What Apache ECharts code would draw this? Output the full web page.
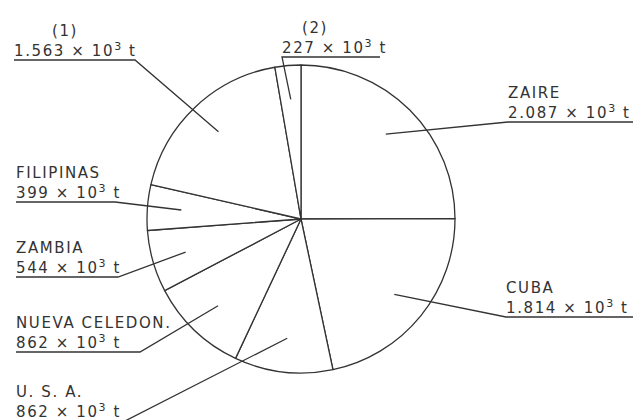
<!DOCTYPE html>
<html>
<head>
<meta charset="utf-8">
<script src="https://cdn.jsdelivr.net/npm/echarts@6/dist/echarts.min.js"></script>
<style>
    html, body { margin: 0; background: #fff; }
    #chart { width: 633px; height: 420px; }
    #chart text { letter-spacing: 1.6px; }
</style>
</head>
<body>
<div id="chart"></div>
<script>
// clockwise from 12 o'clock, values in 10^3 t
const producers = ['ZAIRE', 'CUBA', 'U. S. A.', 'NUEVA CELEDON.', 'ZAMBIA', 'FILIPINAS', '(1)', '(2)'];
const tonnes = [2087, 1814, 862, 862, 544, 399, 1563, 227];

// caption placement: underline from x0 to x1 at y, leader joins the `join` end
const captionSpots = {
    'ZAIRE': { x0: 508, x1: 633, y: 122, join: 'start', indent: 0 },
    'CUBA': { x0: 506, x1: 633, y: 317, join: 'start', indent: 0 },
    'U. S. A.': { x0: 16, x1: 125, y: 421, join: 'end', indent: 0 },
    'NUEVA CELEDON.': { x0: 16, x1: 140, y: 352, join: 'end', indent: 0 },
    'ZAMBIA': { x0: 16, x1: 118, y: 277, join: 'end', indent: 0 },
    'FILIPINAS': { x0: 16, x1: 115, y: 202, join: 'end', indent: 0 },
    '(1)': { x0: 14, x1: 135, y: 60, join: 'end', indent: 38 },
    '(2)': { x0: 282, x1: 380, y: 57, join: 'start', indent: 20 },
};

const CENTER = [301, 219];
const RADIUS = 154;
const INK = '#333';
const LETTER = 1.6; // same as the css letter-spacing

function thousands(n) {
    if (n < 1000) return String(n);
    return Math.floor(n / 1000) + '.' + String(n % 1000).padStart(3, '0');
}

function valueHead(n) {
    return thousands(n) + ' × 10';
}

const sliceData = producers.map((name, i) => ({ name, value: tonnes[i] }));

const captionData = producers.map((name, i) => ({
    name,
    value: tonnes[i],
    label: {
        rich: {
            h: { padding: [0, 0, 0, captionSpots[name].indent] },
            v: {},
            // svg letter-spacing is not measured, so push the following tokens along
            s: {
                fontSize: 11,
                lineHeight: 12,
                verticalAlign: 'top',
                padding: [0, 0, 0, valueHead(tonnes[i]).length * LETTER],
            },
            t: { padding: [0, 0, 0, LETTER] },
        },
    },
}));

const chart = echarts.init(document.getElementById('chart'), null, { renderer: 'svg' });

chart.setOption({
    animation: false,
    series: [
        {
            type: 'pie',
            center: CENTER,
            radius: RADIUS,
            startAngle: 90,
            clockwise: true,
            silent: true,
            z: 1,
            itemStyle: {
                color: '#fff',
                borderColor: INK,
                borderWidth: 1.3,
            },
            label: { show: false },
            labelLine: { show: false },
            data: sliceData,
        },
        {
            // invisible inner ring that carries the captions and leaders
            type: 'pie',
            center: CENTER,
            radius: 120,
            startAngle: 90,
            clockwise: true,
            silent: true,
            z: 5,
            avoidLabelOverlap: false,
            itemStyle: {
                color: 'rgba(0,0,0,0)',
                borderWidth: 0,
            },
            label: {
                show: true,
                color: INK,
                fontFamily: 'DejaVu Sans',
                fontSize: 15,
                lineHeight: 20,
                formatter: (p) => '{h|' + p.name + '}\n{v|' + valueHead(p.value) + '}{s|3}{t| t}',
            },
            labelLine: {
                show: true,
                length: 10,
                length2: 10,
                lineStyle: { color: INK, width: 1.3 },
            },
            labelLayout: function (params) {
                const spot = captionSpots[producers[params.dataIndex]];
                const dot = params.labelLinePoints[0];
                const near = spot.join === 'start' ? spot.x0 : spot.x1;
                const far = spot.join === 'start' ? spot.x1 : spot.x0;
                return {
                    x: spot.x0,
                    y: spot.y + 1,
                    align: 'left',
                    verticalAlign: 'bottom',
                    labelLinePoints: [dot, [near, spot.y], [far, spot.y]],
                };
            },
            data: captionData,
        },
    ],
});
</script>
</body>
</html>
